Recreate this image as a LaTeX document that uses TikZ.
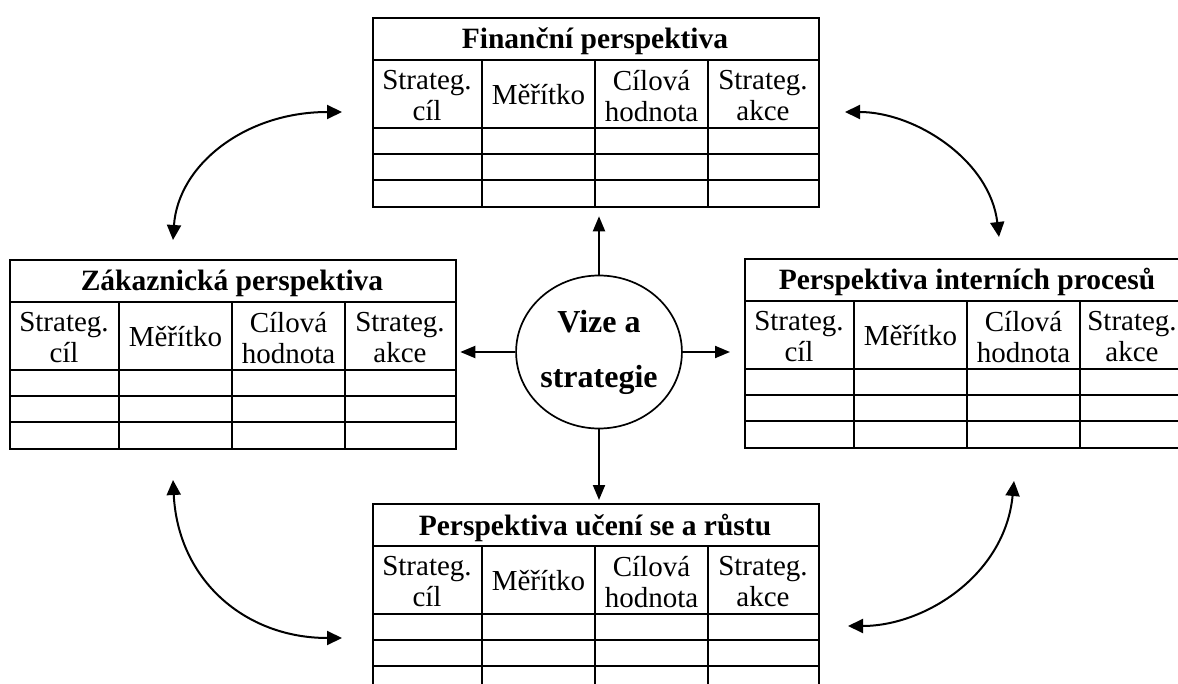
\documentclass[tikz,border=0pt]{standalone}
\usepackage{fontspec}
\setmainfont{Liberation Serif}
\usetikzlibrary{arrows.meta,shapes.geometric}
\tikzset{
 tabframe/.style={draw, line width=2.3pt, rectangle, minimum width=446pt, minimum height=189pt, inner sep=0pt, anchor=north west},
 tabline/.style={line width=2.3pt},
 titletext/.style={font=\bfseries\fontsize{29.5}{32}\selectfont, inner sep=0pt, anchor=base},
 headtext/.style={font=\fontsize{29}{31}\selectfont, align=center, inner sep=0pt},
 vizebox/.style={ellipse, draw, line width=1.7pt, minimum width=158pt, minimum height=153pt, inner sep=0pt, align=center, font=\bfseries\fontsize{32}{55}\selectfont},
 arr/.style={line width=2pt, -{Triangle[length=15pt,width=12pt]}},
 curarr/.style={line width=2pt, {Triangle[length=15pt,width=14pt]}-{Triangle[length=15pt,width=14pt]}},
}
\newcommand\perstab[5][0]{%
 \node[tabframe] (#2) at (#3,#4) {};
 \begin{scope}[shift={(#3,#4)}]
  \draw[tabline] (0,43) -- (446,43) (0,111) -- (446,111) (0,137) -- (446,137) (0,163) -- (446,163)
    (110,43) -- (110,189) (223,43) -- (223,189) (336,43) -- (336,189);
  \node[titletext] (#2t) at (223,32) {#5};
  \node[headtext] (#2a) at (55,79) {Strateg.\\cíl};
  \node[headtext] (#2b) at (166.5,78) {Měřítko};
  \node[headtext] (#2c) at (279.5,79) {Cílová\\hodnota};
  \node[headtext] (#2d) at (391-#1,79) {Strateg.\\akce};
 \end{scope}}
\begin{document}
\begin{tikzpicture}[x=1pt,y=-1pt]
\useasboundingbox (0,0) rectangle (1178,684);
\clip (0,0) rectangle (1178,684);
\fill[white] (0,0) rectangle (1178,684);
\perstab{fin}{372}{17}{Finanční perspektiva}
\perstab{zak}{9}{259}{Zákaznická perspektiva}
\perstab[3]{int}{744}{258}{Perspektiva interních procesů}
\perstab{uce}{372}{503}{Perspektiva učení se a růstu}
\node[vizebox] (vize) at (599,352) {Vize a\\strategie};
\draw[arr, shorten >=8pt] (vize.north) -- (vize.north |- fin.south);
\draw[arr, shorten >=3pt] (vize.south) -- (vize.south |- uce.north);
\draw[arr, shorten >=3pt] (vize.west) -- (vize.west -| zak.east);
\draw[arr, shorten >=14pt] (vize.east) -- (vize.east -| int.west);
\coordinate (tlA) at (173,240); \coordinate (tlB) at (342,112);
\draw[curarr] (tlA) .. controls (178,165) and (245,112) .. (tlB);
\coordinate (trA) at (845,112); \coordinate (trB) at (999,237);
\draw[curarr] (trA) .. controls (915,112) and (990,160) .. (trB);
\coordinate (blA) at (173,480); \coordinate (blB) at (342,638);
\draw[curarr] (blA) .. controls (178,580) and (245,638) .. (blB);
\coordinate (brA) at (848,626); \coordinate (brB) at (1014,481);
\draw[curarr] (brA) .. controls (925,626) and (1005,575) .. (brB);
\end{tikzpicture}
\end{document}
